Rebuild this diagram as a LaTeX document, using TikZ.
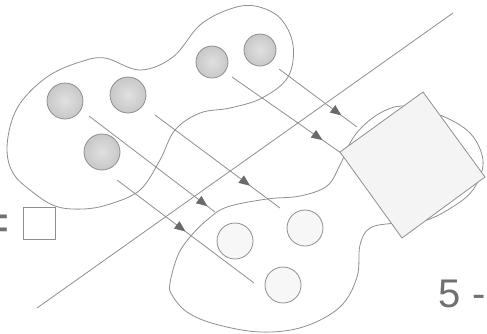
\documentclass[tikz,border=0pt]{standalone}
\usepackage{fontspec}
\setmainfont{Liberation Sans}
\usetikzlibrary{arrows.meta,decorations.markings}
\definecolor{ln}{HTML}{8E8E8E}
\definecolor{ah}{HTML}{6A6A6A}
\definecolor{dkin}{HTML}{E0E0E0}
\definecolor{dkout}{HTML}{C8C8C8}
\definecolor{lt}{HTML}{F7F7F7}
\definecolor{sq}{HTML}{F4F4F4}
\definecolor{tx}{HTML}{707070}
\begin{document}
\begin{tikzpicture}[x=1pt,y=-1pt,
  outline/.style={draw=ln,line width=0.8pt},
  dkcirc/.style={circle,draw=ln,line width=0.8pt,inner color=dkin,outer color=dkout,inner sep=0pt,minimum size=#1},
  ltcirc/.style={circle,draw=ln,line width=0.8pt,fill=lt,inner sep=0pt,minimum size=36pt},
  flow/.style={draw=ln,line width=0.8pt,postaction={decorate},
    decoration={markings,mark=at position #1 with {\arrow[ah]{Triangle[length=11pt,width=9pt]}}}},
  bigtext/.style={text=tx,inner sep=0pt,font=\fontsize{40}{40}\selectfont}
]
\useasboundingbox (0,0) rectangle (487,333);

% upper blob
\draw[outline] plot[smooth cycle,tension=0.6] coordinates {
  (7,150) (12,120) (25,97) (50,75) (80,62) (105,58) (140,70) (173,57)
  (200,25) (230,9) (255,6) (280,18) (293,45) (288,77) (262,98) (230,108)
  (200,113) (175,130) (160,160) (140,190) (110,204) (83,209) (55,206)
  (30,190) (13,173)};

% lower blob with lobe under the square
\draw[outline] plot[smooth cycle,tension=0.6] coordinates {
  (170,283) (178,255) (190,237) (207,220) (227,207) (267,199) (300,196)
  (327,186) (340,165) (350,143) (362,127) (382,112) (405,106) (440,115)
  (470,133) (483,160) (476,185) (460,202) (427,220) (395,223) (370,228)
  (360,245) (357,277) (340,307) (303,327) (260,332) (215,324) (187,312)
  (172,295)};

% long diagonal line
\coordinate (d1) at (37,308);
\coordinate (d2) at (453,13);
\draw[outline] (d1) -- (d2);

% circles
\node[dkcirc=36pt] (g1) at (65,101) {};
\node[dkcirc=36pt] (g2) at (128,95) {};
\node[dkcirc=36pt] (g3) at (102,152) {};
\node[dkcirc=32pt] (g4) at (212,62) {};
\node[dkcirc=32pt] (g5) at (260,50) {};
\node[ltcirc] (l1) at (235,241) {};
\node[ltcirc] (l2) at (305,228) {};
\node[ltcirc] (l3) at (283,285) {};

% flow lines
\coordinate (a1s) at (89,116);  \coordinate (a1e) at (215,212);
\coordinate (a2s) at (155,115); \coordinate (a2e) at (280,208);
\coordinate (a3s) at (117,180); \coordinate (a3e) at (254,283);
\coordinate (a4s) at (232,77);  \coordinate (a4e) at (341,153);
\coordinate (a5s) at (279,69);  \coordinate (a5e) at (357,127);
\path[flow=0.94] (a1s) -- (a1e);
\path[flow=0.76] (a2s) -- (a2e);
\path[flow=0.5]  (a3s) -- (a3e);
\path[flow=0.83] (a4s) -- (a4e);
\path[flow=0.8]  (a5s) -- (a5e);

% rotated square
\draw[outline,fill=sq] (340,152) -- (423,92) -- (485,177) -- (402,238) -- cycle;

% small square
\node[draw=ln,line width=0.8pt,fill=white,minimum size=32pt,inner sep=0pt] (sm) at (39,223) {};

% texts
\node[bigtext,anchor=base west] (five) at (438.5,307) {5 -};
\node[text=tx,inner sep=0pt,anchor=base east,font=\fontsize{52}{52}\selectfont] (eq) at (10,240) {=};
\end{tikzpicture}
\end{document}
